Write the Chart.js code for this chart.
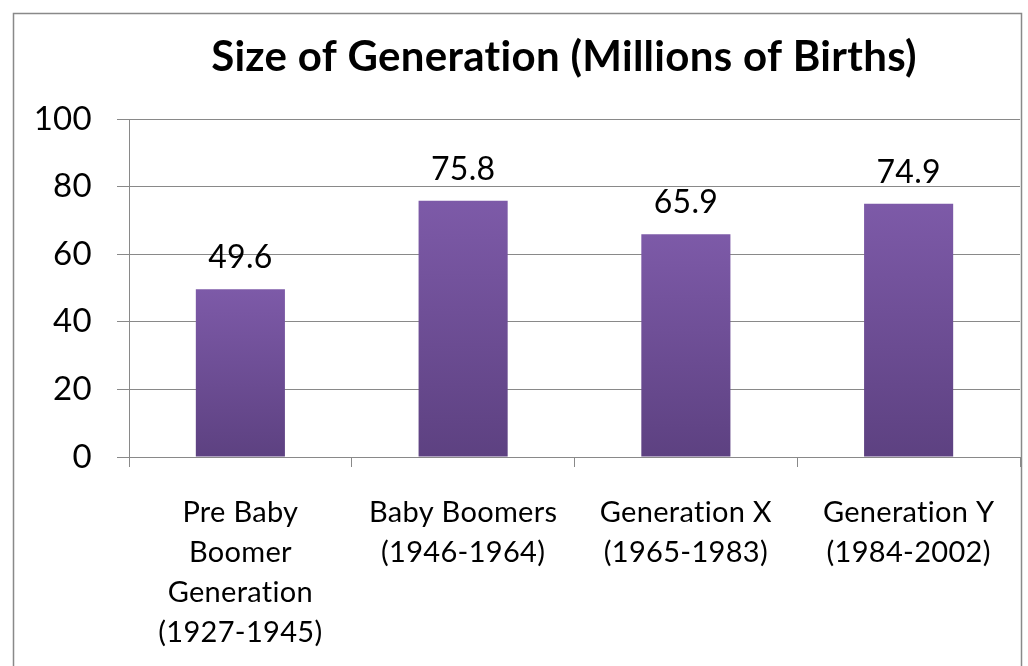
<!DOCTYPE html>
<html>
<head>
<meta charset="utf-8">
<script src="https://cdn.jsdelivr.net/npm/chart.js@4.4.1/dist/chart.umd.min.js"></script>
<style>
    html, body { margin: 0; padding: 0; background: #fff; }
    #wrap { width: 1028px; height: 666px; position: relative; }
</style>
</head>
<body>
<div id="wrap"><canvas id="genChart" width="1028" height="666"></canvas></div>
<script>
// Chart data
const chartTitle = 'Size of Generation (Millions of Births)';
const categories = [
    ['Pre Baby', 'Boomer', 'Generation', '(1927-1945)'],
    ['Baby Boomers', '(1946-1964)'],
    ['Generation X', '(1965-1983)'],
    ['Generation Y', '(1984-2002)']
];
const births = [49.6, 75.8, 65.9, 74.9];
const yTicks = [0, 20, 40, 60, 80, 100];

const fontFamily = 'Lato, "Open Sans", sans-serif';
const gridColor = '#898989';

// Vertical gradient per bar, light at top, dark at base
function barFill(context) {
    const chart = context.chart;
    if (!chart.chartArea || !chart.scales.y) return '#7356a0';
    const y = chart.scales.y;
    const top = y.getPixelForValue(context.raw);
    const bottom = y.getPixelForValue(0);
    const g = chart.ctx.createLinearGradient(0, top, 0, bottom);
    g.addColorStop(0, '#7d5aa8');
    g.addColorStop(1, '#5d4181');
    return g;
}

// Outer border + title
const framePlugin = {
    id: 'frame',
    beforeDraw(chart) {
        const ctx = chart.ctx;
        // a little tracking keeps Lato from joining "ti"
        ctx.letterSpacing = '0.3px';
        ctx.save();
        ctx.strokeStyle = gridColor;
        ctx.lineWidth = 1.5;
        ctx.strokeRect(13.5, 13.5, 1008, 700);
        ctx.fillStyle = '#000';
        ctx.font = 'bold 42px ' + fontFamily;
        ctx.textAlign = 'center';
        ctx.textBaseline = 'alphabetic';
        ctx.fillText(chartTitle, 564, 71);
        ctx.restore();
    }
};

// Value labels above bars
const valueLabels = {
    id: 'valueLabels',
    afterDatasetsDraw(chart) {
        const ctx = chart.ctx;
        ctx.save();
        ctx.fillStyle = '#000';
        ctx.font = '32px ' + fontFamily;
        ctx.textAlign = 'center';
        ctx.textBaseline = 'alphabetic';
        chart.getDatasetMeta(0).data.forEach((bar, i) => {
            ctx.fillText(births[i].toFixed(1), bar.x, bar.y - 21);
        });
        ctx.restore();
    }
};

new Chart(document.getElementById('genChart').getContext('2d'), {
    type: 'bar',
    data: {
        labels: categories,
        datasets: [{
            data: births,
            backgroundColor: barFill,
            borderWidth: 0,
            barPercentage: 0.8,
            categoryPercentage: 0.5
        }]
    },
    options: {
        responsive: false,
        animation: false,
        layout: { padding: { top: 119, right: 8, left: 0, bottom: 0 } },
        plugins: {
            legend: { display: false },
            title: { display: false },
            tooltip: { enabled: false }
        },
        scales: {
            x: {
                grid: {
                    offset: true,
                    drawOnChartArea: false,
                    color: gridColor,
                    tickLength: 10
                },
                border: { color: gridColor },
                ticks: {
                    color: '#000',
                    padding: 26,
                    font: { family: fontFamily, size: 29, lineHeight: 1.38 }
                },
                afterFit(scale) { scale.height = 209; }
            },
            y: {
                min: 0,
                max: 100,
                afterBuildTicks(scale) { scale.ticks = yTicks.map(v => ({ value: v })); },
                grid: { color: gridColor, tickLength: 12 },
                border: { color: gridColor },
                ticks: {
                    color: '#000',
                    padding: 25,
                    font: { family: fontFamily, size: 33 }
                },
                afterFit(scale) { scale.width = 129; }
            }
        }
    },
    plugins: [framePlugin, valueLabels]
});
</script>
</body>
</html>
